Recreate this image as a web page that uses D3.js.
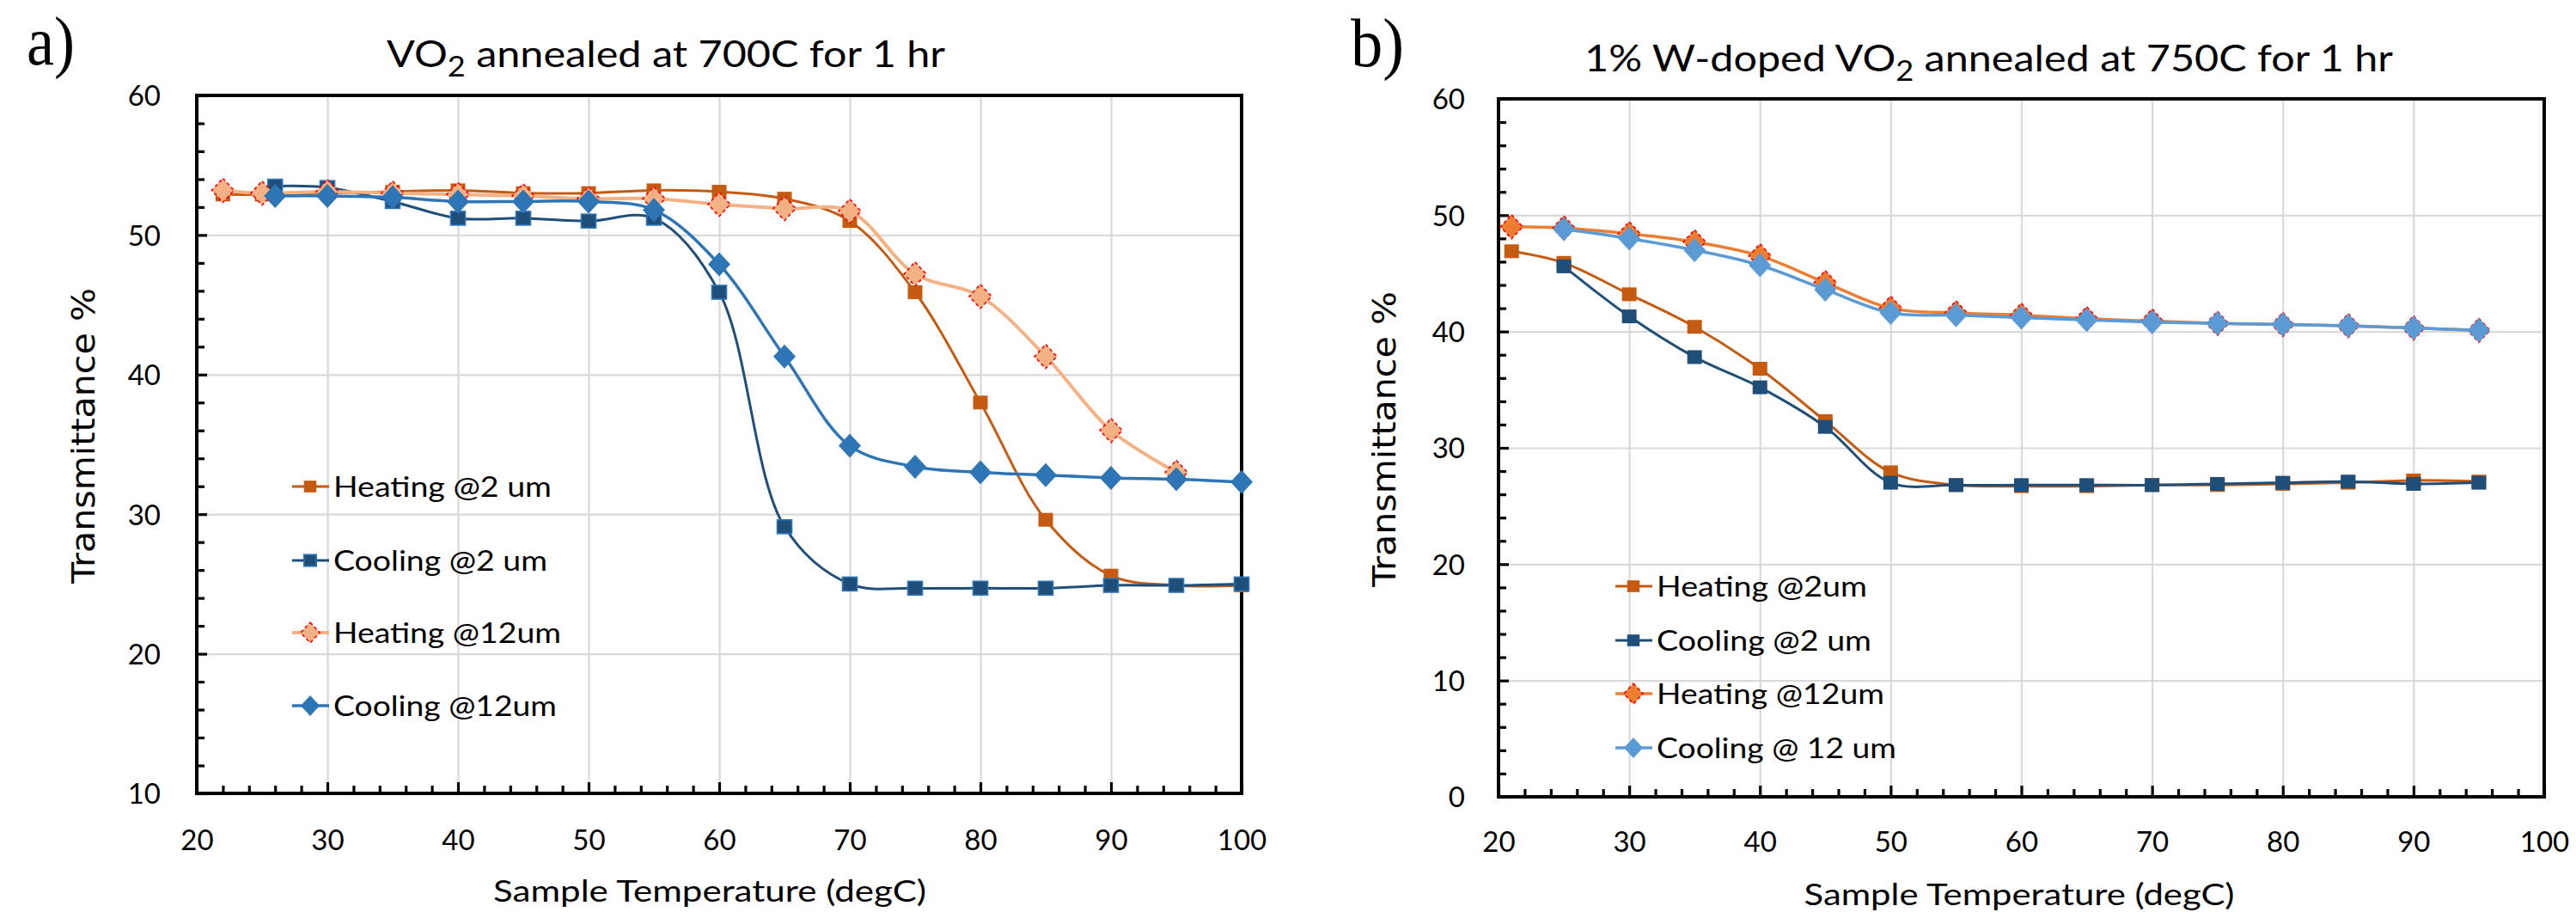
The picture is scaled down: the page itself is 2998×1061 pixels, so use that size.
<!DOCTYPE html>
<html><head><meta charset="utf-8">
<script src="https://cdn.jsdelivr.net/npm/d3@7"></script>
<style>body{margin:0;background:#fff}svg{display:block}</style>
</head><body>
<svg id="chart" width="2998" height="1061"></svg>
<script>
// ---------- DATA ----------
// Panel a) VO2 annealed at 700C for 1 hr
const aHeat2Temps  = [22,25,30,35,40,45,50,55,60,65,70,75,80,85,90,95,100];
const aHeat2Vals   = [52.9,52.9,53.0,53.1,53.2,53.0,53.0,53.2,53.1,52.6,51.0,45.9,38.0,29.6,25.6,24.9,24.9];
const aCool2Temps  = [26,30,35,40,45,50,55,60,65,70,75,80,85,90,95,100];
const aCool2Vals   = [53.5,53.4,52.4,51.2,51.2,51.0,51.2,45.9,29.1,25.0,24.7,24.7,24.7,24.9,24.9,25.0];
const aHeat12Temps = [22,25,30,35,40,45,50,55,60,65,70,75,80,85,90,95];
const aHeat12Vals  = [53.2,53.0,53.1,53.0,52.9,52.8,52.6,52.6,52.2,51.9,51.7,47.2,45.6,41.3,36.0,33.0];
const aCool12Temps = [26,30,35,40,45,50,55,60,65,70,75,80,85,90,95,100];
const aCool12Vals  = [52.8,52.8,52.7,52.4,52.4,52.4,51.8,47.9,41.3,34.9,33.4,33.0,32.8,32.6,32.5,32.3];

// Panel b) 1% W-doped VO2 annealed at 750C for 1 hr
const bHeat2Temps  = [21,25,30,35,40,45,50,55,60,65,70,75,80,85,90,95];
const bHeat2Vals   = [46.9,45.9,43.2,40.4,36.8,32.3,27.9,26.8,26.7,26.7,26.8,26.8,26.9,27.0,27.2,27.1];
const bCool2Temps  = [25,30,35,40,45,50,55,60,65,70,75,80,85,90,95];
const bCool2Vals   = [45.6,41.3,37.8,35.2,31.8,27.0,26.8,26.8,26.8,26.8,26.9,27.0,27.1,26.9,27.0];
const bHeat12Temps = [21,25,30,35,40,45,50,55,60,65,70,75,80,85,90,95];
const bHeat12Vals  = [49.0,48.9,48.4,47.7,46.5,44.2,42.0,41.6,41.4,41.1,40.9,40.7,40.6,40.5,40.3,40.1];
const bCool12Temps = [25,30,35,40,45,50,55,60,65,70,75,80,85,90,95];
const bCool12Vals  = [48.8,48.0,47.0,45.7,43.6,41.6,41.4,41.2,41.0,40.8,40.7,40.6,40.5,40.3,40.1];

// Axis ticks
const xTickLabels  = [20,30,40,50,60,70,80,90,100];
const aYTickLabels = [10,20,30,40,50,60];
const bYTickLabels = [0,10,20,30,40,50,60];

// Series names
const aNames = ["Heating @2 um","Cooling @2 um","Heating @12um","Cooling @12um"];
const bNames = ["Heating @2um","Cooling @2 um","Heating @12um","Cooling @ 12 um"];

// ---------- DRAWING ----------
const svg = d3.select("#chart");
const FONT = "Lato, 'Open Sans', sans-serif";

function zip(t, v){ return t.map((d,i)=>[d, v[i]]); }

function drawPanel(p){
  const g = svg.append("g");
  const x = d3.scaleLinear().domain([20,100]).range([p.left, p.right]);
  const y = d3.scaleLinear().domain(p.yDomain).range([p.bottom, p.top]);
  const H = p.bottom - p.top, W = p.right - p.left;

  // gridlines
  g.append("g").attr("transform",`translate(0,${p.bottom})`)
    .call(d3.axisBottom(x).tickValues(xTickLabels.filter(v=>v>20&&v<100)).tickSize(-H).tickFormat(""))
    .call(s=>s.select(".domain").remove())
    .selectAll("line").attr("stroke","#D9D9D9").attr("stroke-width",2.2);
  g.append("g").attr("transform",`translate(${p.left},0)`)
    .call(d3.axisLeft(y).tickValues(p.yTicks.filter(v=>v>p.yDomain[0]&&v<p.yDomain[1])).tickSize(-W).tickFormat(""))
    .call(s=>s.select(".domain").remove())
    .selectAll("line").attr("stroke","#D9D9D9").attr("stroke-width",2.2);

  // minor ticks (inside)
  const yMinor = d3.range(p.yDomain[0], p.yDomain[1]+0.001, 2).filter(v=>v%10!==0);
  g.append("g").attr("transform",`translate(${p.left},0)`)
    .call(d3.axisLeft(y).tickValues(yMinor).tickSize(-9).tickFormat(""))
    .call(s=>s.select(".domain").remove())
    .selectAll("line").attr("stroke","#000").attr("stroke-width",3.2);
  const xMinor = d3.range(20, 100.001, 2).filter(v=>v%10!==0);
  g.append("g").attr("transform",`translate(0,${p.bottom})`)
    .call(d3.axisBottom(x).tickValues(xMinor).tickSize(-9).tickFormat(""))
    .call(s=>s.select(".domain").remove())
    .selectAll("line").attr("stroke","#000").attr("stroke-width",3.2);

  // major ticks with labels
  const ya = g.append("g").attr("transform",`translate(${p.left},0)`)
    .call(d3.axisLeft(y).tickValues(p.yTicks).tickSize(-12).tickPadding(p.yPad).tickFormat(d3.format("d")));
  ya.select(".domain").remove();
  ya.attr("font-family", FONT).attr("font-size", 33);
  ya.selectAll("line").attr("stroke","#000").attr("stroke-width",3.2);
  ya.selectAll("text").attr("fill","#000").attr("dy","0.36em");

  const xa = g.append("g").attr("transform",`translate(0,${p.bottom})`)
    .call(d3.axisBottom(x).tickValues(xTickLabels).tickSize(-13).tickPadding(p.xPad).tickFormat(d3.format("d")));
  xa.select(".domain").remove();
  xa.attr("font-family", FONT).attr("font-size", 33);
  xa.selectAll("line").attr("stroke","#000").attr("stroke-width",3.2);
  xa.selectAll("text").attr("fill","#000");

  // plot border
  g.append("rect").attr("x",p.left).attr("y",p.top).attr("width",W).attr("height",H)
    .attr("fill","none").attr("stroke","#000").attr("stroke-width",4);

  // series
  const line = d3.line().x(d=>x(d[0])).y(d=>y(d[1])).curve(d3.curveCatmullRom.alpha(0.5));
  p.series.forEach(s=>{
    const pts = zip(s.temps, s.vals);
    g.append("path").attr("d", line(pts)).attr("fill","none")
      .attr("stroke", s.color).attr("stroke-width", s.lw).attr("stroke-linejoin","round");
    drawMarkers(g, pts.map(d=>[x(d[0]), y(d[1])]), s, false);
  });

  // legend
  p.series.forEach((s,i)=>{
    const cy = p.legendY[i];
    g.append("line").attr("x1",p.legendX-21).attr("x2",p.legendX+22).attr("y1",cy).attr("y2",cy)
      .attr("stroke", s.color).attr("stroke-width", s.lw);
    drawMarkers(g, [[p.legendX, cy]], s, true);
    g.append("text").attr("x", p.legendX+27).attr("y", cy+12)
      .attr("font-family", FONT).attr("font-size", 33).attr("fill","#000")
      .attr("textLength", p.legendW[i]).attr("lengthAdjust","spacingAndGlyphs")
      .text(s.name);
  });

  // axis titles
  g.append("text").attr("x", p.xTitleX).attr("y", p.xTitleY).attr("text-anchor","middle")
    .attr("font-family", FONT).attr("font-size", 35).attr("fill","#000")
    .attr("textLength", p.xTitleW).attr("lengthAdjust","spacingAndGlyphs")
    .text("Sample Temperature (degC)");
  g.append("text").attr("transform",`translate(${p.yTitleX},${p.yTitleY}) rotate(-90)`)
    .attr("text-anchor","middle")
    .attr("font-family","'DejaVu Sans', Verdana, sans-serif").attr("font-size", 38).attr("fill","#000")
    .attr("textLength", 344).attr("lengthAdjust","spacingAndGlyphs")
    .text("Transmittance %");

  // chart title with subscript
  const t = g.append("text").attr("x", p.titleX).attr("y", p.titleY)
    .attr("font-family", FONT).attr("font-size", 43).attr("fill","#000")
    .attr("textLength", p.titleW).attr("lengthAdjust","spacingAndGlyphs");
  t.append("tspan").text(p.titlePre);
  t.append("tspan").attr("font-size", 32).attr("dy", 11).text("2");
  t.append("tspan").attr("dy", -11).text(p.titlePost);

  // panel letter
  svg.append("text").attr("x", p.letterX).attr("y", p.letterY)
    .attr("font-family","'Liberation Serif','Times New Roman',serif").attr("font-size", 80).attr("fill","#000")
    .attr("textLength", p.letterW).attr("lengthAdjust","spacingAndGlyphs")
    .text(p.letter);
}

function drawMarkers(g, pts, s, legend){
  const k = legend ? 0.85 : 1;
  pts.forEach(([cx,cy])=>{
    if (s.marker === "square"){
      const w = 17*k, h = 16*k;
      g.append("rect").attr("x", cx-w/2).attr("y", cy-h/2).attr("width", w).attr("height", h)
        .attr("fill", s.fill).attr("stroke", s.mstroke || "none").attr("stroke-width", s.mstroke?1.6:0);
    } else {
      const w = 13*k, h = 14*k;
      g.append("path").attr("d", `M${cx},${cy-h}L${cx+w},${cy}L${cx},${cy+h}L${cx-w},${cy}Z`)
        .attr("fill", s.fill).attr("stroke", s.mstroke || "none")
        .attr("stroke-width", s.mstroke?1.6:0)
        .attr("stroke-dasharray", s.dash || null);
    }
  });
}

drawPanel({
  left:229, right:1445, top:111, bottom:923, yDomain:[10,60], yTicks:aYTickLabels,
  yPad:42, xPad:43,
  series:[
    {name:aNames[0], temps:aHeat2Temps,  vals:aHeat2Vals,  color:"#C55A11", lw:3,   marker:"square",  fill:"#C55A11"},
    {name:aNames[1], temps:aCool2Temps,  vals:aCool2Vals,  color:"#1F4E79", lw:3,   marker:"square",  fill:"#1F4E79", mstroke:"#2E75B6"},
    {name:aNames[2], temps:aHeat12Temps, vals:aHeat12Vals, color:"#F4B183", lw:4,   marker:"diamond", fill:"#F4B183", mstroke:"#FF0000", dash:"4,3"},
    {name:aNames[3], temps:aCool12Temps, vals:aCool12Vals, color:"#2E75B6", lw:3.5, marker:"diamond", fill:"#2E75B6"}
  ],
  legendX:361, legendY:[566,652,736,821], legendW:[254,249,265,260],
  xTitleX:826, xTitleY:1049, xTitleW:504,
  yTitleX:110, yTitleY:507,
  titleX:450, titleY:78, titleW:650, titlePre:"VO", titlePost:" annealed at 700C for 1 hr",
  letter:"a)", letterX:31, letterY:75, letterW:56
});

drawPanel({
  left:1744, right:2961, top:115, bottom:927, yDomain:[0,60], yTicks:bYTickLabels,
  yPad:39, xPad:41,
  series:[
    {name:bNames[0], temps:bHeat2Temps,  vals:bHeat2Vals,  color:"#C55A11", lw:3,   marker:"square",  fill:"#C55A11"},
    {name:bNames[1], temps:bCool2Temps,  vals:bCool2Vals,  color:"#1F4E79", lw:3,   marker:"square",  fill:"#1F4E79"},
    {name:bNames[2], temps:bHeat12Temps, vals:bHeat12Vals, color:"#ED7D31", lw:3.5, marker:"diamond", fill:"#ED7D31", mstroke:"#FF0000", dash:"4,3"},
    {name:bNames[3], temps:bCool12Temps, vals:bCool12Vals, color:"#5B9BD5", lw:3.5, marker:"diamond", fill:"#5B9BD5"}
  ],
  legendX:1901, legendY:[682,745,807,870], legendW:[245,250,265,279],
  xTitleX:2350, xTitleY:1053, xTitleW:501,
  yTitleX:1624, yTitleY:511,
  titleX:1844, titleY:83, titleW:941, titlePre:"1% W-doped VO", titlePost:" annealed at 750C for 1 hr",
  letter:"b)", letterX:1572, letterY:77, letterW:62
});
</script>
</body></html>
